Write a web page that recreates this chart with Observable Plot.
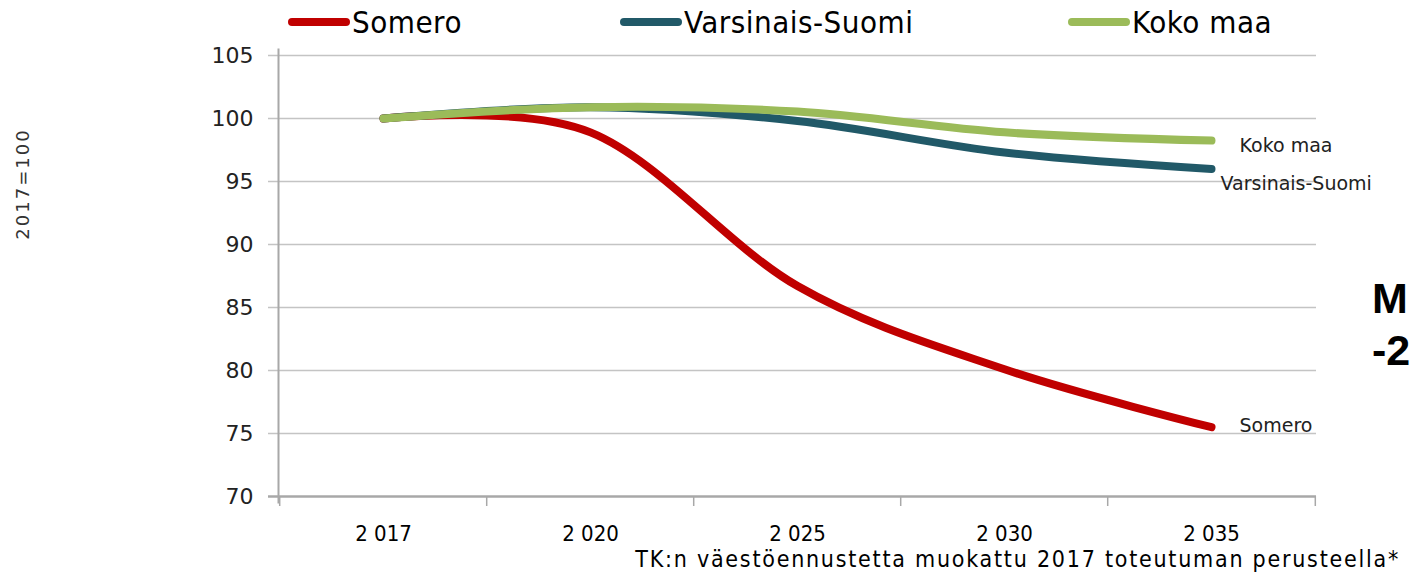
<!DOCTYPE html>
<html>
<head>
<meta charset="utf-8">
<script src="https://cdn.jsdelivr.net/npm/d3@7"></script>
<script src="https://cdn.jsdelivr.net/npm/@observablehq/plot@0.6"></script>
<style>
  html, body { margin: 0; padding: 0; background: #fff; }
  body { width: 1418px; height: 574px; overflow: hidden; position: relative; font-family: "DejaVu Sans", sans-serif; }
  #legend { position: relative; height: 48px; }
  .item { position: absolute; top: 0; height: 44px; display: flex; align-items: center;
          font-family: "Liberation Sans Narrow", "DejaVu Sans Condensed", sans-serif; font-size: 31px; letter-spacing: 0.5px; color: #000; }
  .sw { display: inline-block; width: 62px; height: 8px; border-radius: 4px; margin-right: 2px; }
  #ylabel { position: absolute; left: 22px; top: 184px; transform: translate(-50%, -50%) rotate(-90deg);
            font-size: 18px; letter-spacing: 2px; color: #333; white-space: nowrap; }
  #caption { position: absolute; right: 18px; top: 548px; line-height: 1; font-family: "Liberation Sans Narrow", "DejaVu Sans Condensed", sans-serif;
             font-size: 23px; letter-spacing: 1.75px; color: #000; white-space: nowrap; }
  .big { position: absolute; left: 1372px; font-family: "Liberation Sans", Arial, sans-serif; font-weight: bold;
         font-size: 43px; line-height: 1; color: #000; white-space: nowrap; }
</style>
</head>
<body>
<div id="legend"></div>
<div id="chart"></div>
<div id="ylabel"></div>
<div id="caption"></div>
<div class="big" style="top:277px">M</div>
<div class="big" style="top:329px">-2</div>
<script>
// ---- data ----
const years = ["2 017", "2 020", "2 025", "2 030", "2 035"];
const seriesNames = ["Somero", "Varsinais-Suomi", "Koko maa"];
const somero = [100, 98.9, 86.7, 80.1, 75.5];
const varsinaisSuomi = [100, 100.9, 99.8, 97.3, 96.0];
const kokoMaa = [100, 100.9, 100.55, 98.9, 98.25];
const colors = ["#C00000", "#215968", "#9BBB59"];
const yTicks = [70, 75, 80, 85, 90, 95, 100, 105];
const yAxisLabel = "2017=100";
const captionText = "TK:n väestöennustetta muokattu 2017 toteutuman perusteella*";

// ---- table ----
const seriesValues = [somero, varsinaisSuomi, kokoMaa];
const rows = [];
seriesNames.forEach((s, si) => years.forEach((yr, i) => rows.push({series: s, year: yr, value: seriesValues[si][i]})));
const last = (s) => rows.filter(r => r.series === s && r.year === years[years.length - 1]);

// ---- legend ----
const legendLeft = [288, 620, 1068];
const legend = document.getElementById("legend");
seriesNames.forEach((s, i) => {
  const it = document.createElement("div");
  it.className = "item";
  it.style.left = legendLeft[i] + "px";
  const sw = document.createElement("span");
  sw.className = "sw";
  sw.style.background = colors[i];
  it.appendChild(sw);
  it.appendChild(document.createTextNode(s));
  legend.appendChild(it);
});
document.getElementById("ylabel").textContent = yAxisLabel;
document.getElementById("caption").textContent = captionText;

// ---- chart ----
const W = 1418, H = 526;
const mL = 278, mR = 102, mT = 7, mB = 78;
const step = (W - mL - mR) / years.length;
const gridStroke = "#c4c4c4";
const axisStroke = "#a8a8a8";
const labelStyle = {textAnchor: "start", fontSize: 19, fill: "#222", letterSpacing: 2.5, fontFamily: "DejaVu Sans, sans-serif"};

const chart = Plot.plot({
  width: W,
  height: H,
  marginLeft: mL,
  marginRight: mR,
  marginTop: mT,
  marginBottom: mB,
  style: {background: "transparent", overflow: "visible", fontFamily: "DejaVu Sans, sans-serif"},
  x: {type: "point", domain: years, padding: 0.5, label: null},
  y: {domain: [70, 105], ticks: yTicks, label: null},
  color: {domain: seriesNames, range: colors},
  marks: [
    Plot.ruleY(yTicks.filter(v => v > 70), {stroke: gridStroke, strokeWidth: 1.5, insetLeft: -10}),
    Plot.ruleY([70], {stroke: axisStroke, strokeWidth: 2.5, insetLeft: -10}),
    Plot.frame({anchor: "left", stroke: axisStroke, strokeWidth: 2, insetTop: -6, insetBottom: -6}),
    Plot.ruleX(years, {x: d => d, y1: 70, y2: 70, dx: -step / 2, insetBottom: -10, stroke: axisStroke, strokeWidth: 1.5}),
    Plot.ruleX(years.slice(-1), {x: d => d, y1: 70, y2: 70, dx: step / 2, insetBottom: -10, stroke: axisStroke, strokeWidth: 1.5}),
    Plot.axisY({ticks: yTicks, tickSize: 0, tickPadding: 25, fontSize: 22, fill: "#222", label: null,
                fontFamily: "DejaVu Sans, sans-serif"}),
    Plot.axisX({tickSize: 0, tickPadding: 29, fontSize: 22, fill: "#000", label: null, letterSpacing: 1.5,
                fontFamily: "Liberation Sans Narrow, DejaVu Sans Condensed, sans-serif"}),
    Plot.line(rows, {x: "year", y: "value", z: "series", stroke: "series", strokeWidth: 8,
                     strokeLinecap: "round", strokeLinejoin: "round", curve: "cardinal"}),
    Plot.text(last("Koko maa"), {x: "year", y: "value", text: "series", dx: 28, dy: 5, ...labelStyle}),
    Plot.text(last("Varsinais-Suomi"), {x: "year", y: "value", text: "series", dx: 9, dy: 15, ...labelStyle}),
    Plot.text(last("Somero"), {x: "year", y: "value", text: "series", dx: 28, dy: -1, ...labelStyle})
  ]
});
document.getElementById("chart").appendChild(chart);
</script>
</body>
</html>
